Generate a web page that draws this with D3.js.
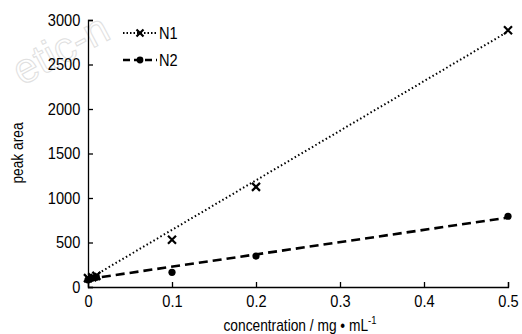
<!DOCTYPE html>
<html><head><meta charset="utf-8">
<script src="https://cdn.jsdelivr.net/npm/d3@7"></script>
<style>body{margin:0;background:#fff}svg{display:block}text{font-family:"Liberation Sans",Arial,sans-serif}</style>
</head><body>
<svg id="c" width="522" height="334"></svg>
<script>
const xTicks = [0, 0.1, 0.2, 0.3, 0.4, 0.5];
const yTicks = [0, 500, 1000, 1500, 2000, 2500, 3000];
const conc = [0, 0.005, 0.01, 0.1, 0.2, 0.5];
const n1 = [100, 110, 125, 530, 1125, 2885];
const n2 = [80, 100, 110, 165, 348, 795];
const fitX = [0, 0.5];
const n1Fit = [85, 2870];
const n2Fit = [90, 780];
const seriesNames = ["N1", "N2"];

const SX = 0.86;
const svg = d3.select("#c");
const x = d3.scaleLinear().domain([0, 0.5]).range([88, 508]);
const y = d3.scaleLinear().domain([0, 3000]).range([287, 20]);

// watermark
svg.append("text").attr("x", 22).attr("y", 86).attr("transform", "rotate(-28,22,86)")
  .attr("font-size", 42).attr("fill", "none").attr("stroke", "#e0e0e0").attr("stroke-width", 1)
  .text("etic-n");

const xa = svg.append("g").attr("transform", "translate(0,287)")
  .call(d3.axisBottom(x).tickValues(xTicks).tickSize(-5).tickPadding(8).tickFormat(d => d === 0 ? "0" : d3.format(".1f")(d)));
const ya = svg.append("g").attr("transform", "translate(88,0)")
  .call(d3.axisLeft(y).tickValues(yTicks).tickSize(-5).tickPadding(9).tickFormat(d3.format("d")));
[xa, ya].forEach(a => {
  a.select(".domain").attr("stroke", "#000").attr("stroke-width", 1.3);
  a.selectAll(".tick line").attr("stroke", "#000").attr("stroke-width", 1.3);
  a.selectAll(".tick text").attr("font-size", 17).attr("fill", "#000")
    .attr("font-family", "'Liberation Sans',Arial,sans-serif")
    .attr("transform", `scale(${SX},1)`);
});
xa.selectAll(".tick text").attr("dy", "0.71em");

const line = d3.line().x(d => x(d[0])).y(d => y(d[1]));
const fits = [n1Fit, n2Fit];
const dashes = ["1.5,2.5", "9,5"];
const widths = [2, 2.6];
fits.forEach((f, i) => {
  svg.append("path").datum(fitX.map((v, j) => [v, f[j]]))
    .attr("d", line).attr("fill", "none").attr("stroke", "#000")
    .attr("stroke-width", widths[i]).attr("stroke-dasharray", dashes[i]);
});

function cross(g, cx, cy, s) {
  g.append("path").attr("d", `M${cx-s},${cy-s}L${cx+s},${cy+s}M${cx-s},${cy+s}L${cx+s},${cy-s}`)
    .attr("stroke", "#000").attr("stroke-width", 2.2).attr("fill", "none");
}
const pts = svg.append("g");
conc.forEach((c, i) => cross(pts, x(c), y(n1[i]), 4));
conc.forEach((c, i) => pts.append("circle").attr("cx", x(c)).attr("cy", y(n2[i])).attr("r", 3.6).attr("fill", "#000"));

function ntext(tx, ty, size, rot) {
  return svg.append("g").attr("transform", `translate(${tx},${ty})` + (rot ? ` rotate(${rot})` : "") + ` scale(${SX},1)`)
    .append("text").attr("font-size", size).attr("fill", "#000");
}

// legend
const leg = svg.append("g");
seriesNames.forEach((name, i) => {
  const ly = 33 + i * 27;
  leg.append("line").attr("x1", 123).attr("x2", 157).attr("y1", ly).attr("y2", ly)
    .attr("stroke", "#000").attr("stroke-width", widths[i]).attr("stroke-dasharray", i === 0 ? "1.5,2" : "7,4");
  if (i === 0) cross(leg, 140, ly, 3.5);
  else leg.append("circle").attr("cx", 140).attr("cy", ly).attr("r", 3.4).attr("fill", "#000");
  ntext(159, ly + 6, 17).text(name);
});

ntext(23, 153, 16, -90).attr("text-anchor", "middle").text("peak area");
const xl = ntext(300, 331, 16).attr("text-anchor", "middle");
xl.append("tspan").text("concentration / mg \u2022 mL");
xl.append("tspan").attr("dy", -7).attr("font-size", 11).text("-1");
</script>
</body></html>
